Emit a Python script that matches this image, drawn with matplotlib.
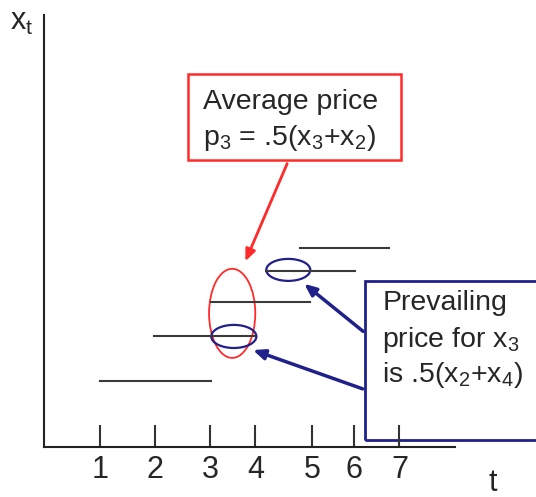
import matplotlib.pyplot as plt
from matplotlib.patches import Ellipse, Rectangle

plt.rcParams['font.family'] = ['Liberation Sans', 'DejaVu Sans']
plt.rcParams['mathtext.fontset'] = 'custom'
plt.rcParams['mathtext.rm'] = 'Liberation Sans'
plt.rcParams['mathtext.it'] = 'Liberation Sans:italic'

# tick positions (t axis) and their labels
tick_pos = [1.0, 2.0, 3.0, 3.82, 4.85, 5.62, 6.44]
tick_labels = ["1", "2", "3", "4", "5", "6", "7"]

# horizontal price segments: level, start, end
seg_y = [1.2, 2.02, 2.64, 3.2, 3.62]
seg_x0 = [1.0, 1.98, 3.02, 4.02, 4.64]
seg_x1 = [3.02, 3.82, 4.82, 5.64, 6.25]

# ellipses: centre x, centre y, width, height
ell_red = (3.4, 2.43, 0.84, 1.62)
ell_blue = [(3.43, 2.01, 0.82, 0.42), (4.42, 3.22, 0.8, 0.4)]

gris = "#3a3a3a"
rojo = "#ff2a2a"
azul = "#20208a"
texto = "#262626"

W, H = 536, 497
fig = plt.figure(figsize=(W / 100, H / 100), dpi=100)
ax = fig.add_axes([44 / W, 50 / H, 411 / W, 432 / H])
ax.set_xlim(-0.02, 7.45)
ax.set_ylim(0, 432 / 55)

for s in ["top", "right"]:
    ax.spines[s].set_visible(False)
for s in ["left", "bottom"]:
    ax.spines[s].set_color("#222222")
    ax.spines[s].set_linewidth(1.5)

ax.set_yticks([])
ax.set_xticks(tick_pos)
ax.set_xticklabels(tick_labels, fontsize=22, color=texto)
ax.tick_params(axis="x", direction="in", length=16, width=1.5, color="#333333", pad=6)

for y, a, b in zip(seg_y, seg_x0, seg_x1):
    ax.plot([a, b], [y, y], color=gris, lw=1.5)

cx, cy, w, h = ell_red
ax.add_patch(Ellipse((cx, cy), w, h, fill=False, ec=rojo, lw=1.3))
for cx, cy, w, h in ell_blue:
    ax.add_patch(Ellipse((cx, cy), w, h, fill=False, ec=azul, lw=1.6))

# caja roja
ax.add_patch(Rectangle((2.6, 5.22), 3.87, 1.56, fill=False, ec=rojo, lw=1.8, clip_on=False))
ax.text(2.87, 6.27, "Average price", fontsize=20.5, color=texto, va="center", clip_on=False)
ax.text(2.87, 5.62, r"p$_3$ = .5(x$_3$+x$_2$)", fontsize=20.5, color=texto, va="center", clip_on=False)

# caja azul
ax.add_patch(Rectangle((5.82, 0.13), 4.0, 2.89, fill=False, ec=azul, lw=2, clip_on=False))
ax.text(6.13, 2.62, "Prevailing", fontsize=20.5, color=texto, va="center", clip_on=False)
ax.text(6.13, 1.95, r"price for x$_3$", fontsize=20.5, color=texto, va="center", clip_on=False)
ax.text(6.13, 1.31, r"is .5(x$_2$+x$_4$)", fontsize=20.5, color=texto, va="center", clip_on=False)

# flechas
ax.annotate("", xy=(3.62, 3.33), xytext=(4.42, 5.2),
            arrowprops=dict(arrowstyle="-|>,head_length=0.7,head_width=0.3", color=rojo, lw=2))
ax.annotate("", xy=(4.67, 3.0), xytext=(5.82, 2.07),
            arrowprops=dict(arrowstyle="-|>,head_length=0.7,head_width=0.3", color=azul, lw=2.5))
ax.annotate("", xy=(3.73, 1.78), xytext=(5.82, 1.04),
            arrowprops=dict(arrowstyle="-|>,head_length=0.7,head_width=0.3", color=azul, lw=2.5))

fig.text(22 / W, 1 - 22 / H, r"x$_\mathrm{t}$", fontsize=22, color=texto, ha="center", va="center")
fig.text(493 / W, 1 - 483 / H, "t", fontsize=22, color=texto, ha="center", va="center")

fig.savefig("out.png", dpi=100)
